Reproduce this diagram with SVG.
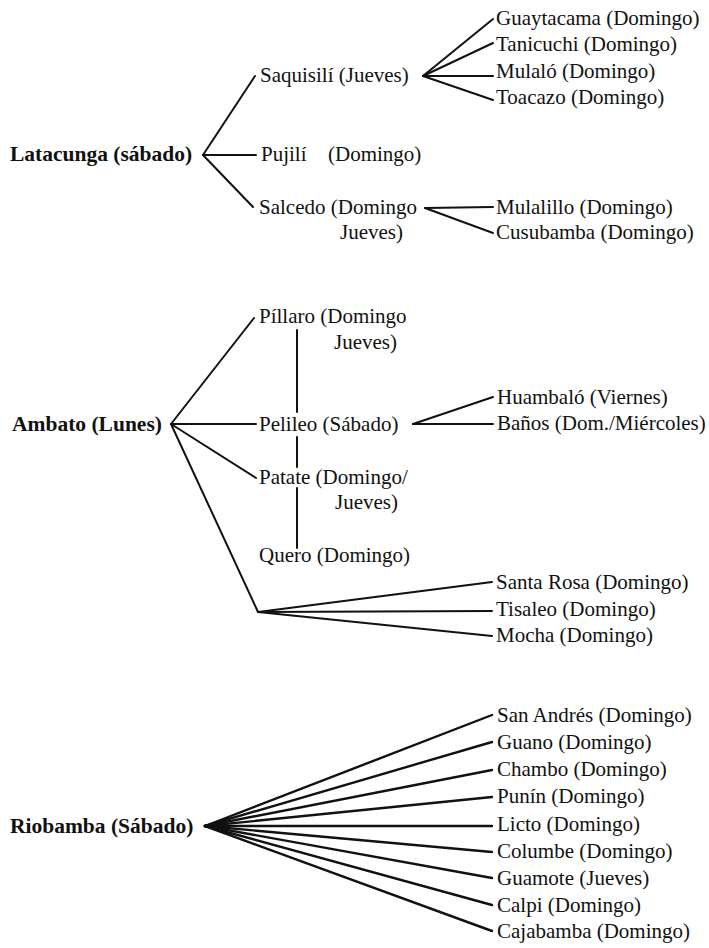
<svg xmlns="http://www.w3.org/2000/svg" width="709" height="948" viewBox="0 0 709 948">
  <style>
    text { font-family: "Liberation Serif", "Times New Roman", serif; font-size: 21px; fill: #111; }
    .root { font-weight: bold; font-size: 21.5px; }
    .links line, .links polyline { stroke: #111; stroke-width: 2; fill: none; stroke-linecap: round; }
    .fan line { stroke-width: 2.4; }
  </style>
  <rect width="709" height="948" fill="#fff"/>

  <!-- connectors -->
  <g id="connectors" class="links">
    <!-- Latacunga -->
    <line x1="203" y1="155" x2="255" y2="76"/>
    <line x1="203" y1="155" x2="256" y2="155"/>
    <line x1="203" y1="155" x2="253" y2="207"/>
    <!-- Saquisilí -->
    <line x1="423" y1="76" x2="493" y2="19"/>
    <line x1="423" y1="76" x2="493" y2="43"/>
    <line x1="423" y1="76" x2="493" y2="76"/>
    <line x1="423" y1="76" x2="493" y2="100"/>
    <!-- Salcedo -->
    <line x1="425" y1="208" x2="493" y2="207"/>
    <line x1="425" y1="208" x2="493" y2="233"/>
    <!-- Ambato -->
    <line x1="171" y1="424" x2="254" y2="318"/>
    <line x1="171" y1="424" x2="256" y2="424"/>
    <line x1="171" y1="424" x2="256" y2="478"/>
    <line x1="171" y1="424" x2="258" y2="612"/>
    <!-- vertical link Píllaro - Pelileo - Patate - Quero -->
    <line x1="297" y1="330" x2="297" y2="412"/>
    <line x1="297" y1="437" x2="297" y2="467"/>
    <line x1="297" y1="488" x2="297" y2="548"/>
    <!-- Pelileo -->
    <line x1="413" y1="424" x2="493" y2="397"/>
    <line x1="413" y1="424" x2="493" y2="424"/>
    <!-- Santa Rosa / Tisaleo / Mocha -->
    <line x1="258" y1="612" x2="492" y2="582"/>
    <line x1="258" y1="612" x2="492" y2="611"/>
    <line x1="258" y1="612" x2="492" y2="636"/>
    <!-- Riobamba -->
    <g class="fan">
      <line x1="205" y1="826" x2="492" y2="715"/>
      <line x1="205" y1="826" x2="492" y2="742"/>
      <line x1="205" y1="826" x2="492" y2="770"/>
      <line x1="205" y1="826" x2="492" y2="797"/>
      <line x1="205" y1="826" x2="492" y2="826"/>
      <line x1="205" y1="826" x2="492" y2="852"/>
      <line x1="205" y1="826" x2="492" y2="878"/>
      <line x1="205" y1="826" x2="492" y2="905"/>
      <line x1="205" y1="826" x2="492" y2="931"/>
    </g>
  </g>

  <!-- Latacunga group -->
  <g id="latacunga"><text class="root" x="10" y="161">Latacunga (sábado)</text></g>
  <g id="saquisili"><text x="260" y="82">Saquisilí (Jueves)</text></g>
  <g id="pujili"><text x="261" y="161">Pujilí<tspan x="328">(Domingo)</tspan></text></g>
  <g id="salcedo"><text x="259" y="214">Salcedo (Domingo</text><text x="340" y="239">Jueves)</text></g>
  <g id="guaytacama"><text x="496" y="25">Guaytacama (Domingo)</text></g>
  <g id="tanicuchi"><text x="496" y="51">Tanicuchi (Domingo)</text></g>
  <g id="mulalo"><text x="496" y="78">Mulaló (Domingo)</text></g>
  <g id="toacazo"><text x="496" y="104">Toacazo (Domingo)</text></g>
  <g id="mulalillo"><text x="496" y="214">Mulalillo (Domingo)</text></g>
  <g id="cusubamba"><text x="496" y="239">Cusubamba (Domingo)</text></g>

  <!-- Ambato group -->
  <g id="ambato"><text class="root" x="12" y="431">Ambato (Lunes)</text></g>
  <g id="pillaro"><text x="259" y="323">Píllaro (Domingo</text><text x="334" y="349">Jueves)</text></g>
  <g id="pelileo"><text x="259" y="431">Pelileo (Sábado)</text></g>
  <g id="huambalo"><text x="497" y="404">Huambaló (Viernes)</text></g>
  <g id="banos"><text x="497" y="430">Baños (Dom./Miércoles)</text></g>
  <g id="patate"><text x="259" y="484">Patate (Domingo/</text><text x="335" y="509">Jueves)</text></g>
  <g id="quero"><text x="259" y="562">Quero (Domingo)</text></g>
  <g id="santa-rosa"><text x="496" y="589">Santa Rosa (Domingo)</text></g>
  <g id="tisaleo"><text x="496" y="616">Tisaleo (Domingo)</text></g>
  <g id="mocha"><text x="496" y="642">Mocha (Domingo)</text></g>

  <!-- Riobamba group -->
  <g id="riobamba"><text class="root" x="10" y="833">Riobamba (Sábado)</text></g>
  <g id="san-andres"><text x="497" y="722">San Andrés (Domingo)</text></g>
  <g id="guano"><text x="497" y="749">Guano (Domingo)</text></g>
  <g id="chambo"><text x="497" y="776">Chambo (Domingo)</text></g>
  <g id="punin"><text x="497" y="803">Punín (Domingo)</text></g>
  <g id="licto"><text x="497" y="831">Licto (Domingo)</text></g>
  <g id="columbe"><text x="497" y="858">Columbe (Domingo)</text></g>
  <g id="guamote"><text x="497" y="885">Guamote (Jueves)</text></g>
  <g id="calpi"><text x="497" y="912">Calpi (Domingo)</text></g>
  <g id="cajabamba"><text x="497" y="938">Cajabamba (Domingo)</text></g>
</svg>
